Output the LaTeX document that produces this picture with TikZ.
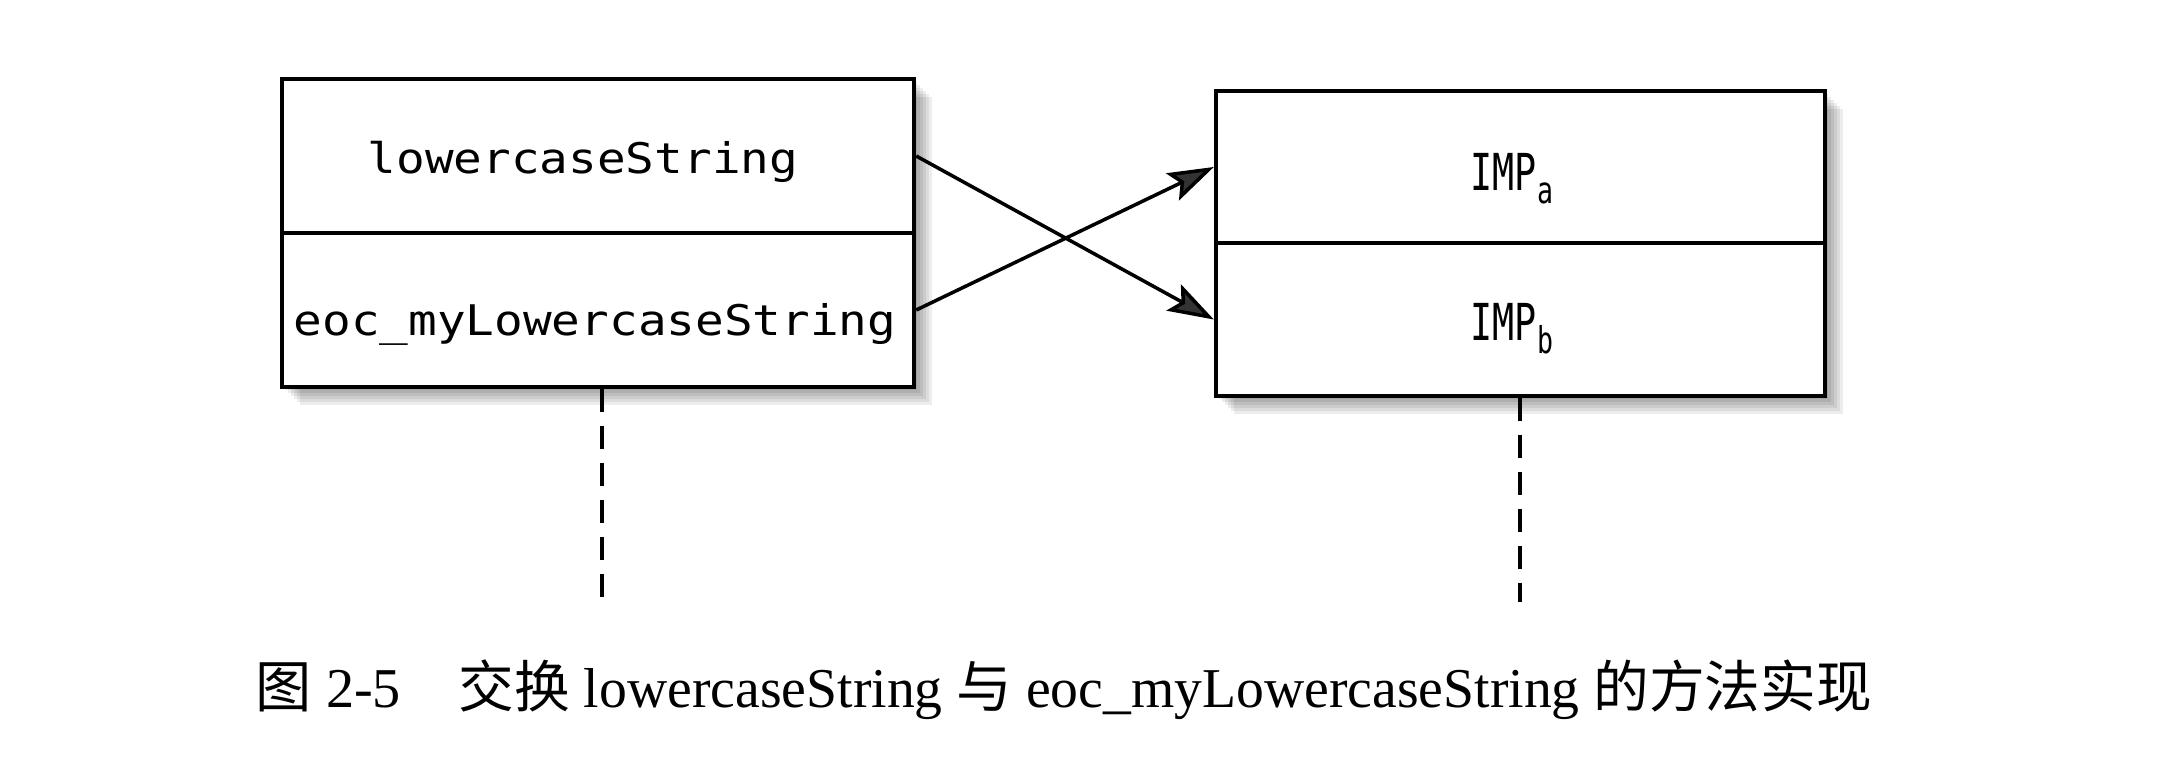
\documentclass[tikz,border=0pt]{standalone}
\usepackage{fontspec}
\setmainfont{Liberation Serif}
\newfontfamily\cjk{Noto Sans CJK SC}
\newfontfamily\boxfont[FakeStretch=1.13]{DejaVu Sans Mono}
\newfontfamily\impfont[FakeStretch=0.72]{DejaVu Sans Mono}
\usetikzlibrary{arrows.meta}
\def\u{0.2845pt}
\tikzset{
  rowbox/.style={draw=black, line width=1.25pt, fill=white, inner sep=0pt, rectangle},
  methodtxt/.style={anchor=base west, inner sep=0pt, font=\boxfont\fontsize{12}{12}\selectfont},
  imptxt/.style={anchor=base west, inner sep=0pt, font=\impfont\fontsize{14.5}{14.5}\selectfont},
  swaparrow/.style={line width=1pt, -{Stealth[length=13pt, width=8.5pt, inset=2.5pt, fill=black!80]}},
  lifeline/.style={line width=1.1pt, dash pattern=on 6.5pt off 4pt},
  captxt/.style={anchor=base west, inner sep=0pt, font=\fontsize{16}{16}\selectfont},
}
\newcommand{\subidx}[1]{\raisebox{-3.9pt}{\impfont\fontsize{10.5}{10.5}\selectfont #1}}
\begin{document}
\begin{tikzpicture}[x=0.2845pt, y=-0.2845pt]
\useasboundingbox (0,0) rectangle (2160,762);
\fill[white] (0,0) rectangle (2160,762);
% shadows
\foreach \k in {3,6,9,12,15,18} {
  \fill[black, opacity=0.07] ({282+\k},{79+\k}) rectangle ({914+\k},{387+\k});
  \fill[black, opacity=0.07] ({1216+\k},{91+\k}) rectangle ({1825+\k},{396+\k});
}
% left box rows
\node[rowbox, minimum width=632*\u, minimum height=154*\u] (L1) at (598,156) {};
\node[rowbox, minimum width=632*\u, minimum height=154*\u] (L2) at (598,310) {};
% right box rows
\node[rowbox, minimum width=609*\u, minimum height=152*\u] (R1) at (1520.5,167) {};
\node[rowbox, minimum width=609*\u, minimum height=153*\u] (R2) at (1520.5,319.5) {};
% texts
\node[methodtxt] (t1) at (367,173) {lowercaseString};
\node[methodtxt] (t2) at (293,335) {eoc\_myLowercaseString};
\node[imptxt] (t3) at (1470,190) {IMP\subidx{a}};
\node[imptxt] (t4) at (1470,340) {IMP\subidx{b}};
% swap arrows
\draw[swaparrow] (L1.east) -- (R2.west);
\draw[swaparrow] (L2.east) -- (R1.west);
% lifelines
\coordinate (Lend) at (602,598);
\coordinate (Rend) at (1520,602);
\draw[lifeline] (L2.south -| Lend) -- (Lend);
\draw[lifeline] (R2.south -| Rend) -- (Rend);
% caption
\node[captxt] (cap1) at (255,707) {{\cjk 图} 2-5};
\node[captxt, xscale=0.99] (cap2) at (458,707) {{\cjk 交换} lowercaseString {\cjk 与} eoc\_myLowercaseString {\cjk 的方法实现}};
\end{tikzpicture}
\end{document}
